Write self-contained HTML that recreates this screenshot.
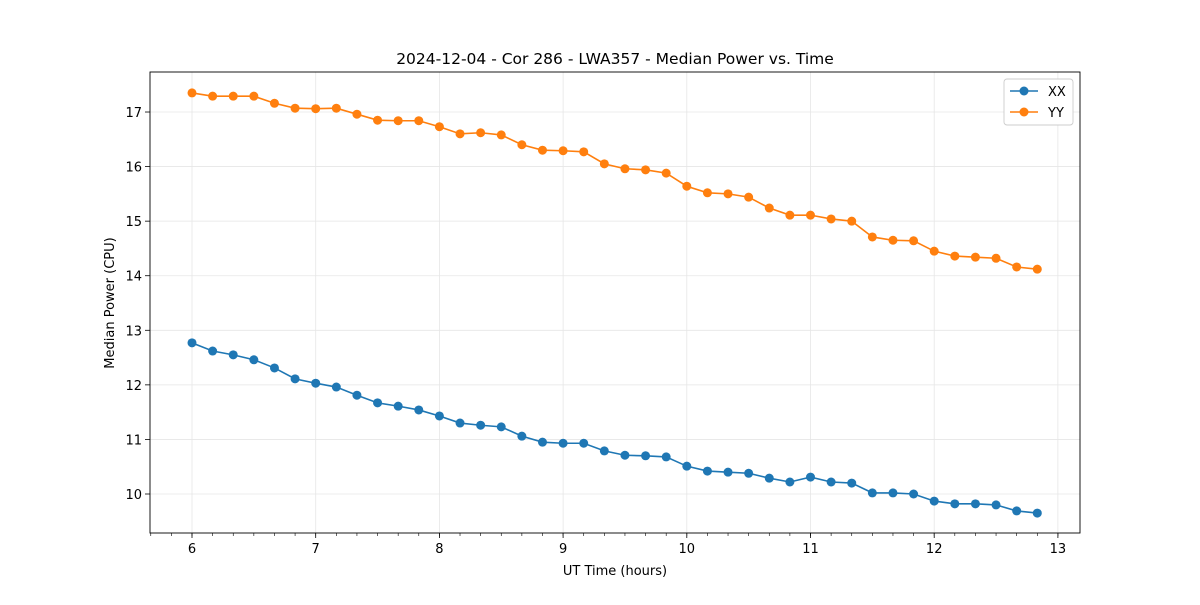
<!DOCTYPE html>
<html><head><meta charset="utf-8"><style>
body{margin:0;background:#fff;font-family:"Liberation Sans","DejaVu Sans",sans-serif}
svg text{font-family:"DejaVu Sans","Liberation Sans",sans-serif}
</style></head><body>
<svg id="chart" width="1200" height="600" xmlns="http://www.w3.org/2000/svg"></svg>
<script>
const timesStart = 6, timesStep = 1/6;
const xxValues = [12.77,12.62,12.55,12.46,12.31,12.11,12.03,11.96,11.81,11.67,11.61,11.54,11.43,11.30,11.26,11.23,11.06,10.95,10.93,10.93,10.79,10.71,10.70,10.68,10.51,10.42,10.40,10.38,10.29,10.22,10.31,10.22,10.20,10.02,10.02,10.00,9.87,9.82,9.82,9.80,9.69,9.65];
const yyValues = [17.35,17.29,17.29,17.29,17.16,17.07,17.06,17.07,16.96,16.85,16.84,16.84,16.73,16.60,16.62,16.58,16.40,16.30,16.29,16.27,16.05,15.96,15.94,15.88,15.64,15.52,15.50,15.44,15.24,15.11,15.11,15.04,15.00,14.71,14.65,14.64,14.45,14.36,14.34,14.32,14.16,14.12];
const xTicks = [6,7,8,9,10,11,12,13];
const yTicks = [10,11,12,13,14,15,16,17];
const L=150,R=1080,T=72,B=533;
const xs = v => 192 + (v-6)*123.7;
const ys = v => 494 - (v-10)*54.57;
const svg=document.getElementById('chart');
const NS='http://www.w3.org/2000/svg';
function add(tag,attrs,parent){const e=document.createElementNS(NS,tag);for(const k in attrs)e.setAttribute(k,attrs[k]);(parent||svg).appendChild(e);return e;}
xTicks.forEach(t=>{const g=add('line',{x1:xs(t),x2:xs(t),y1:T,y2:B,stroke:'#e6e6e6','stroke-width':0.8});


const tk=add('line',{x1:xs(t),x2:xs(t),y1:B,y2:B+5,stroke:'#000','stroke-width':0.8});


const tx=add('text',{x:xs(t),y:B+20,'text-anchor':'middle','font-size':13});tx.textContent=t;

});
for(let v=5+4/6;v<13.1;v+=1/6){const m=add('line',{x1:xs(v),x2:xs(v),y1:B,y2:B+3,stroke:'#000','stroke-width':0.6});

}
yTicks.forEach(t=>{const g=add('line',{x1:L,x2:R,y1:ys(t),y2:ys(t),stroke:'#e6e6e6','stroke-width':0.8});


const tk=add('line',{x1:L-5,x2:L,y1:ys(t),y2:ys(t),stroke:'#000','stroke-width':0.8});


const tx=add('text',{x:L-8,y:ys(t)+5,'text-anchor':'end','font-size':13});tx.textContent=t;

});
function series(vals,color,name){
  const pts=vals.map((v,i)=>xs(timesStart+i*timesStep)+','+ys(v)).join(' ');
  const pl=add('polyline',{points:pts,fill:'none',stroke:color,'stroke-width':1.6});
  
  
  vals.forEach((v,i)=>{const c=add('circle',{cx:xs(timesStart+i*timesStep),cy:ys(v),r:4.5,fill:color});
  
  });
}
series(xxValues,'#1f77b4','xx');
series(yyValues,'#ff7f0e','yy');
const fr=add('rect',{x:L,y:T,width:R-L,height:B-T,fill:'none',stroke:'#000','stroke-width':0.9});


const title=add('text',{x:615,y:64,'text-anchor':'middle','font-size':15.5});title.textContent='2024-12-04 - Cor 286 - LWA357 - Median Power vs. Time';


const xl=add('text',{x:615,y:575,'text-anchor':'middle','font-size':13});xl.textContent='UT Time (hours)';


const yl=add('text',{x:114,y:303,'text-anchor':'middle','font-size':13,transform:'rotate(-90 114 303)'});yl.textContent='Median Power (CPU)';


const lg=add('g',{});


add('rect',{x:1004,y:79,width:69,height:46,rx:3,fill:'#fff',stroke:'#ccc','stroke-width':0.9},lg);
[['XX','#1f77b4',91],['YY','#ff7f0e',112]].forEach(([n,c,y])=>{
  add('line',{x1:1010,x2:1038,y1:y,y2:y,stroke:c,'stroke-width':1.6},lg);
  add('circle',{cx:1024,cy:y,r:4.5,fill:c},lg);
  const t=add('text',{x:1048,y:y+5,'font-size':13},lg);t.textContent=n;
  
  
});
</script>
</body></html>
